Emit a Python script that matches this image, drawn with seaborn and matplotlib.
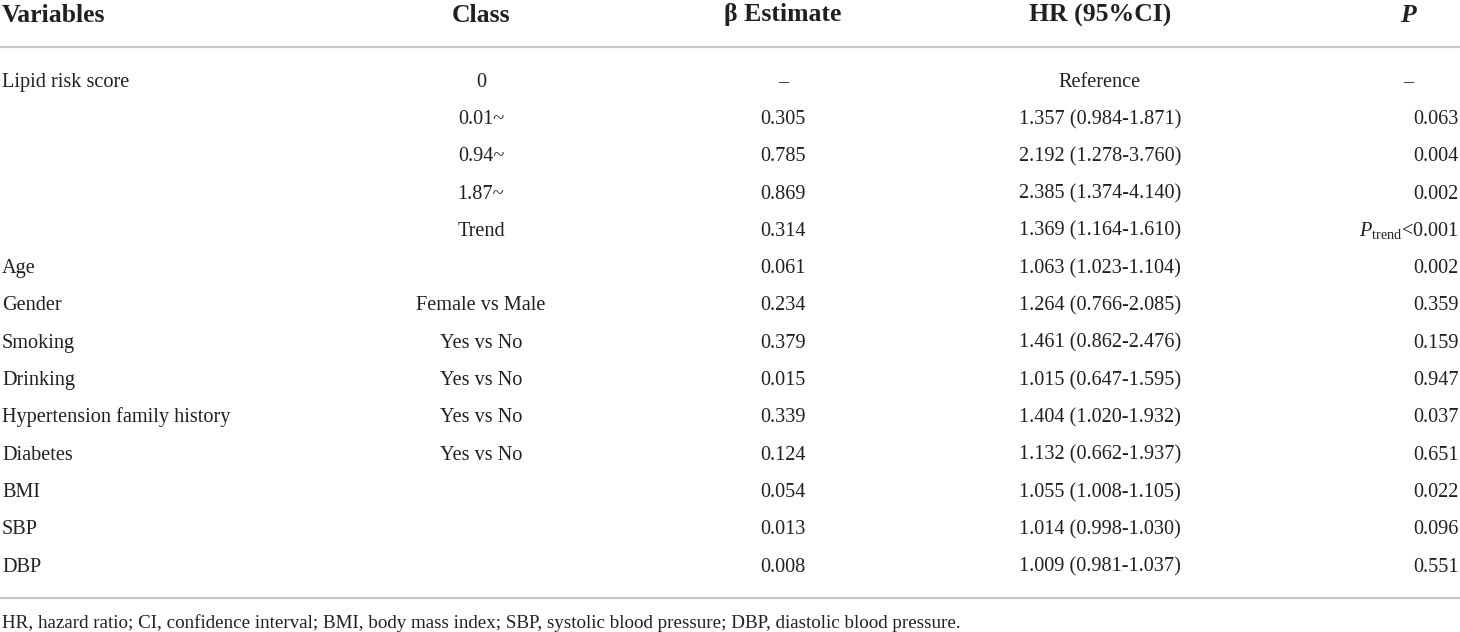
import seaborn as sns # for styling
import matplotlib.pyplot as plt # for drawing the table

# table content
variables = ["Lipid risk score", "", "", "", "", "Age", "Gender", "Smoking", "Drinking",
             "Hypertension family history", "Diabetes", "BMI", "SBP", "DBP"]
classes = ["0", "0.01~", "0.94~", "1.87~", "Trend", "", "Female vs Male", "Yes vs No",
           "Yes vs No", "Yes vs No", "Yes vs No", "", "", ""]
beta = ["–", "0.305", "0.785", "0.869", "0.314", "0.061", "0.234", "0.379", "0.015",
        "0.339", "0.124", "0.054", "0.013", "0.008"]
hr_ci = ["Reference", "1.357 (0.984-1.871)", "2.192 (1.278-3.760)", "2.385 (1.374-4.140)",
         "1.369 (1.164-1.610)", "1.063 (1.023-1.104)", "1.264 (0.766-2.085)",
         "1.461 (0.862-2.476)", "1.015 (0.647-1.595)", "1.404 (1.020-1.932)",
         "1.132 (0.662-1.937)", "1.055 (1.008-1.105)", "1.014 (0.998-1.030)",
         "1.009 (0.981-1.037)"]
p_values = ["–", "0.063", "0.004", "0.002", r"$P_{\mathrm{trend}}$<0.001", "0.002", "0.359",
            "0.159", "0.947", "0.037", "0.651", "0.022", "0.096", "0.551"]
headers = ["Variables", "Class", "β Estimate", "HR (95%CI)", "P"]
footnote = ("HR, hazard ratio; CI, confidence interval; BMI, body mass index; "
            "SBP, systolic blood pressure; DBP, diastolic blood pressure.")

sns.set_theme(style="white")
plt.rcParams['font.family'] = ['Liberation Serif', 'DejaVu Serif']
plt.rcParams['mathtext.fontset'] = 'custom'
plt.rcParams['mathtext.rm'] = 'Liberation Serif'
plt.rcParams['mathtext.it'] = 'Liberation Serif:italic'

txt = "#231f20"
body = 14.6
head = 18.5

fig = plt.figure(figsize=(14.6, 6.32), dpi=100)
ax = fig.add_axes([0, 0, 1, 1])
ax.set_xlim(0, 1460)
ax.set_ylim(632, 0)
ax.axis("off")

# header
hy = 21.5
ax.text(2, hy, headers[0], fontsize=head, fontweight="bold", color=txt, va="baseline", ha="left")
ax.text(481, hy, headers[1], fontsize=head, fontweight="bold", color=txt, va="baseline", ha="center")
ax.text(783, hy, headers[2], fontsize=head, fontweight="bold", color=txt, va="baseline", ha="center")
ax.text(1100, hy, headers[3], fontsize=head, fontweight="bold", color=txt, va="baseline", ha="center")
ax.text(1408, hy, headers[4], fontsize=head, fontweight="bold", style="italic", color=txt,
        va="baseline", ha="center")

# rules
ax.axhline(47, color="#c8c8c8", lw=1.6)
ax.axhline(598, color="#c8c8c8", lw=1.6)

# rows
y0, step = 86.7, 37.3
for i in range(len(variables)):
    y = y0 + step * i
    ax.text(2, y, variables[i], fontsize=body, color=txt, va="baseline", ha="left")
    ax.text(481, y, classes[i], fontsize=body, color=txt, va="baseline", ha="center")
    ax.text(783, y, beta[i], fontsize=body, color=txt, va="baseline", ha="center")
    ax.text(1100, y, hr_ci[i], fontsize=body, color=txt, va="baseline", ha="center")
    if p_values[i] == "–":
        ax.text(1408, y, p_values[i], fontsize=body, color=txt, va="baseline", ha="center")
    else:
        ax.text(1459, y, p_values[i], fontsize=body, color=txt, va="baseline", ha="right")

ax.text(2, 627.5, footnote, fontsize=13.7, color=txt, va="baseline", ha="left")

plt.savefig("out.png", dpi=100)
